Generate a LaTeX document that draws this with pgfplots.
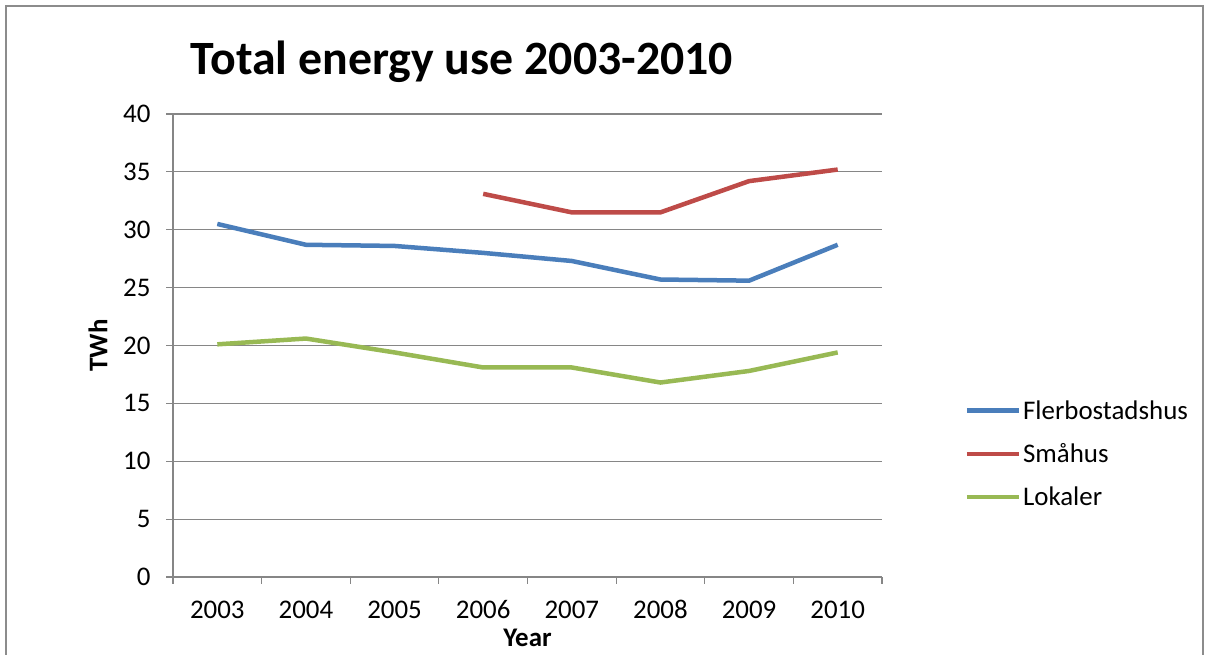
\documentclass[border=0pt]{standalone}
\usepackage{pgfplots}
\pgfplotsset{compat=1.18}
\usepackage{fontspec}
\setmainfont{Carlito}

\definecolor{serblue}{HTML}{4A7EBB}
\definecolor{serred}{HTML}{BE4B48}
\definecolor{sergreen}{HTML}{98B954}
\definecolor{axgray}{HTML}{868686}
\definecolor{framegray}{HTML}{8C8C8C}

\begin{document}
\begin{tikzpicture}[x=1bp,y=1bp]
\useasboundingbox (0,0) rectangle (1210,655);
% outer chart frame (bottom edge falls outside the page)
\draw[framegray, line width=2bp] (6,-5) -- (6,649) -- (1203,649) -- (1203,-5);

\node[font=\fontsize{48}{54}\selectfont\bfseries, anchor=center] at (462,593) {Total energy use 2003-2010};

\begin{axis}[
  at={(173bp,78bp)}, anchor=south west,
  scale only axis, width=709bp, height=463bp,
  xmin=-0.5, xmax=7.5, ymin=0, ymax=40,
  xtick={0,...,7},
  xticklabels={2003,2004,2005,2006,2007,2008,2009,2010},
  minor xtick={-0.5,0.5,...,7.5},
  ytick={0,5,...,40},
  axis lines=left,
  axis line style={-, axgray, line width=1.2bp},
  tick align=outside,
  major tick length=0pt,
  every tick/.style={axgray, line width=1.2bp},
  extra y ticks={0,5,...,40},
  extra y tick labels={},
  extra y tick style={major tick length=7bp, tick align=outside, grid=major},
  minor tick length=7bp,
  ymajorgrids=true,
  grid style={axgray, line width=1.2bp},
  tick label style={font=\fontsize{27}{31}\selectfont, text=black},
  /pgf/number format/assume math mode=true,
  xticklabel style={anchor=base, yshift=-42bp},
  yticklabel style={anchor=east, xshift=-19bp},
  xlabel={\bfseries Year}, ylabel={\bfseries TWh},
  label style={font=\fontsize{27}{31}\selectfont},
  xlabel style={at={(axis description cs:0.5,0)}, anchor=center, yshift=-61bp},
  ylabel style={at={(axis description cs:0,0.5)}, anchor=center, yshift=75bp},
  legend cell align=left,
  legend style={at={(1.112,0.266)}, anchor=west, draw=none, fill=none,
    font=\fontsize{27}{31}\selectfont, row sep=19bp,
    /tikz/every even column/.append style={column sep=6bp}},
  legend image code/.code={\draw[#1] (0bp,0bp) -- (52bp,0bp);},
  every axis plot/.append style={line width=4.5bp, line join=round},
  clip=false,
]
\addplot[serblue] coordinates {
  (0,30.5) (1,28.7) (2,28.6) (3,28.0) (4,27.3) (5,25.7) (6,25.6) (7,28.7)};
\addlegendentry{Flerbostadshus}
\addplot[serred] coordinates {
  (3,33.1) (4,31.5) (5,31.5) (6,34.2) (7,35.2)};
\addlegendentry{Småhus}
\addplot[sergreen] coordinates {
  (0,20.1) (1,20.6) (2,19.4) (3,18.1) (4,18.1) (5,16.8) (6,17.8) (7,19.4)};
\addlegendentry{Lokaler}
\end{axis}
\end{tikzpicture}
\end{document}
